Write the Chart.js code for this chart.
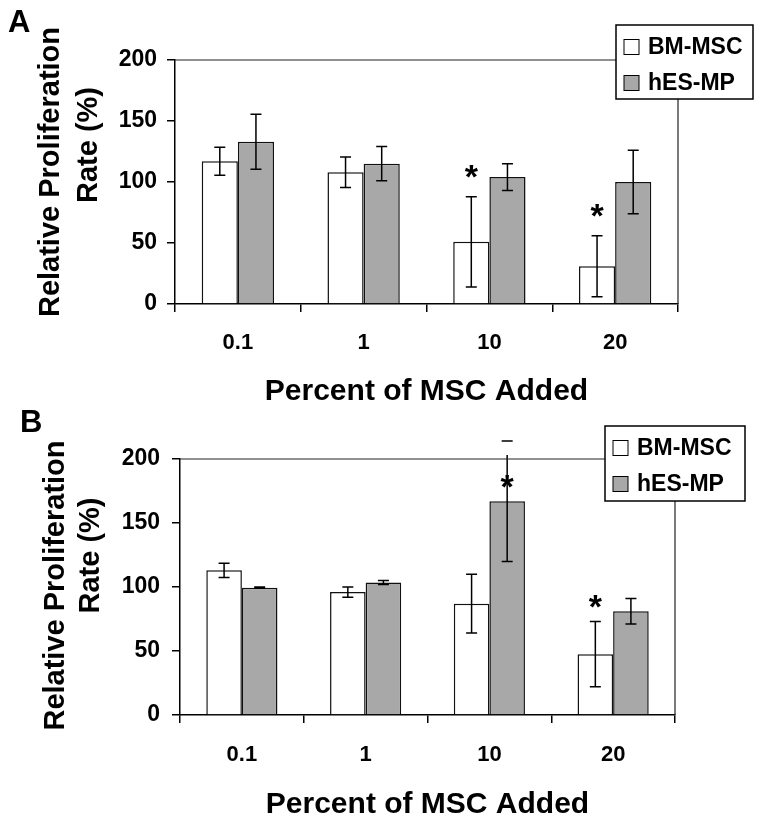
<!DOCTYPE html>
<html>
<head>
<meta charset="utf-8">
<script src="https://cdn.jsdelivr.net/npm/chart.js@4.4.0/dist/chart.umd.min.js"></script>
<style>
    html, body { margin: 0; padding: 0; background: #fff; }
    #wrap { position: relative; width: 761px; height: 823px; }
    .panel { position: absolute; left: 0; width: 761px; }
</style>
</head>
<body>
<div id="wrap">
    <div class="panel" style="top:0;height:410px"><canvas id="chartA"></canvas></div>
    <div class="panel" style="top:400px;height:423px"><canvas id="chartB"></canvas></div>
</div>
<script>
var categories = ['0.1', '1', '10', '20'];
var seriesLabels = ['BM-MSC', 'hES-MP'];
var yTickValues = [0, 50, 100, 150, 200];

// panel A
var bmMscA = [117, 108, 51, 31];
var bmMscErrA = [11.5, 12.5, 37, 25];
var hesMpA = [133, 115, 104, 100];
var hesMpErrA = [22.5, 14, 11, 26];
var starsA = [[2, 0, 112], [3, 0, 80]];   // [category, series, value]

// panel B
var bmMscB = [113, 96, 87, 47.5];
var bmMscErrB = [5.5, 4, 23, 25.5];
var hesMpB = [99.5, 103.5, 167, 81];
var hesMpErrB = [0.5, 1.5, 47, 10];
var starsB = [[2, 1, 186], [3, 0, 92]];

var FONT = '"Liberation Sans", Arial, sans-serif';

// error bars + significance stars
var errorBars = {
    id: 'errorBars',
    afterDatasetsDraw: function (chart) {
        var ctx = chart.ctx, y = chart.scales.y, area = chart.chartArea;
        ctx.save();
        ctx.strokeStyle = '#000';
        ctx.lineWidth = 1.5;
        chart.data.datasets.forEach(function (ds, i) {
            chart.getDatasetMeta(i).data.forEach(function (bar, j) {
                var v = ds.data[j], e = ds.errors[j];
                var top = y.getPixelForValue(v + e);
                var bot = y.getPixelForValue(v - e);
                ctx.beginPath();
                ctx.moveTo(bar.x, Math.max(top, area.top - 4));
                ctx.lineTo(bar.x, bot);
                ctx.moveTo(bar.x - 5.5, top); ctx.lineTo(bar.x + 5.5, top);
                ctx.moveTo(bar.x - 5.5, bot); ctx.lineTo(bar.x + 5.5, bot);
                ctx.stroke();
            });
        });
        var size = 34;
        ctx.fillStyle = '#000';
        ctx.font = 'bold ' + size + 'px ' + FONT;
        ctx.textAlign = 'center';
        ctx.textBaseline = 'alphabetic';
        (chart.options.plugins.errorBars.stars || []).forEach(function (s) {
            var bar = chart.getDatasetMeta(s[1]).data[s[0]];
            ctx.fillText('*', bar.x, y.getPixelForValue(s[2]) + size * 0.62);
        });
        ctx.restore();
    }
};

// plot frame, boxed legend, panel letter and y title
var decor = {
    id: 'decor',
    afterDraw: function (chart, args, opts) {
        var ctx = chart.ctx, a = chart.chartArea;
        ctx.save();

        ctx.strokeStyle = '#222';
        ctx.lineWidth = 1.2;
        ctx.beginPath();
        ctx.moveTo(a.left, a.top);
        ctx.lineTo(a.right, a.top);
        ctx.lineTo(a.right, a.bottom);
        ctx.stroke();

        var lx = a.right + opts.legend.dx, ly = a.top + opts.legend.dy;
        ctx.fillStyle = '#fff';
        ctx.fillRect(lx, ly, opts.legend.w, opts.legend.h);
        ctx.lineWidth = 1.5;
        ctx.strokeStyle = '#000';
        ctx.strokeRect(lx, ly, opts.legend.w, opts.legend.h);
        ctx.font = 'bold 23px ' + FONT;
        ctx.textAlign = 'left';
        ctx.textBaseline = 'middle';
        chart.data.datasets.forEach(function (ds, i) {
            var cy = ly + 22 + i * 36;
            ctx.fillStyle = ds.backgroundColor;
            ctx.fillRect(lx + 8, cy - 7.5, 15, 15);
            ctx.lineWidth = 1;
            ctx.strokeRect(lx + 8, cy - 7.5, 15, 15);
            ctx.fillStyle = '#000';
            ctx.fillText(ds.label, lx + 32, cy + 1);
        });

        ctx.font = 'bold 31px ' + FONT;
        ctx.textBaseline = 'alphabetic';
        ctx.fillText(opts.letter.text, opts.letter.x, opts.letter.y);

        ctx.font = 'bold 29px ' + FONT;
        ctx.textAlign = 'center';
        ctx.textBaseline = 'middle';
        opts.yTitle.forEach(function (line) {
            ctx.save();
            ctx.translate(line.x, line.y);
            ctx.rotate(-Math.PI / 2);
            ctx.fillText(line.text, 0, 0);
            ctx.restore();
        });
        ctx.restore();
    }
};

function makeChart(id, bm, bmErr, hes, hesErr, stars, look) {
    return new Chart(document.getElementById(id), {
        type: 'bar',
        data: {
            labels: categories,
            datasets: [{
                label: seriesLabels[0],
                data: bm,
                errors: bmErr,
                backgroundColor: '#ffffff',
                borderColor: '#111',
                borderWidth: 1.5
            }, {
                label: seriesLabels[1],
                data: hes,
                errors: hesErr,
                backgroundColor: '#a8a8a8',
                borderColor: '#111',
                borderWidth: 1.5
            }]
        },
        options: {
            responsive: true,
            maintainAspectRatio: false,
            animation: false,
            layout: { padding: { top: look.top, right: look.right, left: 0, bottom: 0 } },
            datasets: { bar: { categoryPercentage: 0.575, barPercentage: 1.0 } },
            plugins: {
                legend: { display: false },
                tooltip: { enabled: false },
                errorBars: { stars: stars },
                decor: { legend: look.legend, letter: look.letter, yTitle: look.yTitle }
            },
            scales: {
                x: {
                    afterFit: function (s) { s.height = look.xHeight; },
                    grid: { offset: true, drawOnChartArea: false, tickLength: 8, color: '#000', lineWidth: 1.5 },
                    border: { color: '#000', width: 1.5 },
                    ticks: { color: '#000', padding: look.xPad, font: { family: FONT, size: 22, weight: 'bold' } },
                    title: {
                        display: true,
                        text: 'Percent of MSC Added',
                        color: '#000',
                        padding: { top: 0, bottom: 0 },
                        font: { family: FONT, size: 30, weight: 'bold' }
                    }
                },
                y: {
                    min: 0,
                    max: 200,
                    afterFit: function (s) { s.width = look.yWidth; },
                    afterBuildTicks: function (s) {
                        s.ticks = yTickValues.map(function (v) { return { value: v }; });
                    },
                    grid: { drawOnChartArea: false, tickLength: 8, color: '#000', lineWidth: 1.5 },
                    border: { color: '#000', width: 1.5 },
                    ticks: { color: '#000', padding: look.yPad, font: { family: FONT, size: 23, weight: 'bold' } }
                }
            }
        },
        plugins: [errorBars, decor]
    });
}

var chartA = makeChart('chartA', bmMscA, bmMscErrA, hesMpA, hesMpErrA, starsA, {
    top: 60, right: 83, yWidth: 175, xHeight: 106, xPad: 18, yPad: 10,
    legend: { dx: -62, dy: -35, w: 137, h: 74 },
    letter: { text: 'A', x: 8, y: 32 },
    yTitle: [{ text: 'Relative Proliferation', x: 51, y: 172 }, { text: 'Rate (%)', x: 88.5, y: 145 }]
});

var chartB = makeChart('chartB', bmMscB, bmMscErrB, hesMpB, hesMpErrB, starsB, {
    top: 59, right: 86, yWidth: 180, xHeight: 108, xPad: 19, yPad: 12,
    legend: { dx: -70, dy: -33, w: 140, h: 75 },
    letter: { text: 'B', x: 20, y: 32 },
    yTitle: [{ text: 'Relative Proliferation', x: 56, y: 185.5 }, { text: 'Rate (%)', x: 91, y: 155.5 }]
});
</script>
</body>
</html>
